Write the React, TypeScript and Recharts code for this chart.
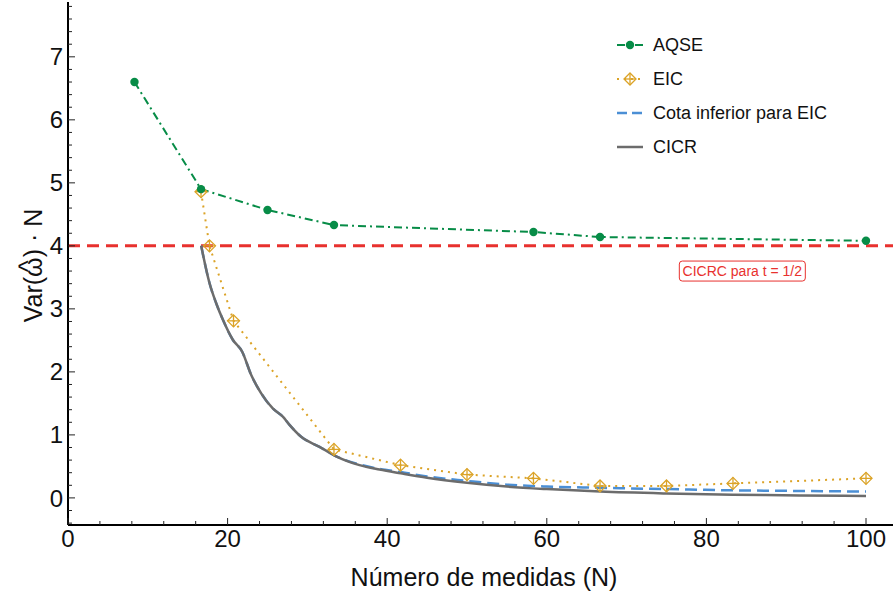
import React from "react";
import {
  LineChart,
  Line,
  XAxis,
  YAxis,
  ReferenceLine,
  ReferenceDot,
} from "recharts";

const FONT = "'Liberation Sans', Arial, sans-serif";

// AQSE
const aqseN = [8.33, 16.67, 25, 33.33, 58.33, 66.67, 100];
const aqseVar = [6.6, 4.9, 4.57, 4.33, 4.22, 4.14, 4.08];

// EIC
const eicN = [16.67, 17.73, 20.74, 33.33, 41.67, 50, 58.33, 66.67, 75, 83.33, 100];
const eicVar = [4.86, 4.0, 2.81, 0.77, 0.52, 0.37, 0.31, 0.19, 0.19, 0.23, 0.31];

// Cota inferior para EIC
const cotaN = [
  16.69, 17.73, 18.57, 19.4, 20.65, 21.83, 22.96, 24.21, 25.66, 26.92, 27.76, 29.22,
  31.52, 33.6, 36.53, 39.04, 41.7, 45, 50, 55, 60, 66.7, 75, 83.3, 91.7, 100,
];
const cotaVar = [
  4.0, 3.41, 3.09, 2.83, 2.51, 2.32, 1.95, 1.66, 1.42, 1.29, 1.16, 0.97,
  0.81, 0.66, 0.53, 0.46, 0.41, 0.34, 0.27, 0.21, 0.18, 0.16, 0.14, 0.12, 0.11, 0.1,
];

// CICR
const cicrN = cotaN;
const cicrVar = [
  4.0, 3.41, 3.09, 2.83, 2.51, 2.32, 1.95, 1.66, 1.42, 1.29, 1.16, 0.97,
  0.81, 0.66, 0.52, 0.45, 0.39, 0.32, 0.24, 0.18, 0.14, 0.1, 0.07, 0.05, 0.04, 0.03,
];

const cicrcLevel = 4;

const xTicks = [0, 4, 8, 12, 16, 20, 24, 28, 32, 36, 40, 44, 48, 52, 56, 60, 64, 68, 72, 76, 80, 84, 88, 92, 96, 100, 104];
const xLabels = [0, 20, 40, 60, 80, 100];
const yLabels = [0, 1, 2, 3, 4, 5, 6, 7];
const yTicks: number[] = [];
for (let k = -2; k <= 39; k++) yTicks.push(Math.round(k * 2) / 10);

const zip = (xs: number[], ys: number[]) => xs.map((x, i) => ({ x, y: ys[i] }));

const GREEN = "#078c47";
const GOLD = "#dba327";
const BLUE = "#4b8fd5";
const GRAY = "#6c6c6c";
const RED = "#e8312e";

const AQSE_DASH = "8 4 2 4";
const EIC_DASH = "2 5";

const EicMarker = ({ cx, cy }: any) => {
  if (cx == null || cy == null) return null;
  const r = 6;
  return (
    <g stroke={GOLD} strokeWidth={1.3} fill="none">
      <path d={`M${cx},${cy - r}L${cx + r},${cy}L${cx},${cy + r}L${cx - r},${cy}Z`} />
      <line x1={cx - r} y1={cy} x2={cx + r} y2={cy} />
      <line x1={cx} y1={cy - r} x2={cx} y2={cy + r} />
    </g>
  );
};

const AqseMarker = ({ cx, cy }: any) => {
  if (cx == null || cy == null) return null;
  return <circle cx={cx} cy={cy} r={4.2} fill={GREEN} stroke="none" />;
};

const BottomTick = ({ x, y, payload }: any) => {
  const v = payload.value;
  const major = xLabels.includes(v);
  return (
    <g>
      <line x1={x} y1={y} x2={x} y2={y - (major ? 7 : 4)} stroke="#222" strokeWidth={1} />
      {major && (
        <text x={x} y={y + 22} textAnchor="middle" fontSize={24} fontFamily={FONT} fill="#111">
          {v}
        </text>
      )}
    </g>
  );
};

const TopTick = ({ x, y, payload }: any) => {
  const major = xLabels.includes(payload.value);
  return <line x1={x} y1={y} x2={x} y2={y + (major ? 7 : 4)} stroke="#444" strokeWidth={1} />;
};

const LeftTick = ({ x, y, payload }: any) => {
  const v = payload.value;
  const major = yLabels.some((l) => Math.abs(l - v) < 1e-6);
  return (
    <g>
      <line x1={x} y1={y} x2={x + (major ? 7 : 4)} y2={y} stroke="#222" strokeWidth={1} />
      {major && (
        <text x={x - 5} y={y + 8.6} textAnchor="end" fontSize={24} fontFamily={FONT} fill="#111">
          {Math.round(v)}
        </text>
      )}
    </g>
  );
};

const legendItems = [
  { name: "AQSE", color: GREEN, dash: AQSE_DASH, marker: "circle" },
  { name: "EIC", color: GOLD, dash: EIC_DASH, marker: "eic" },
  { name: "Cota inferior para EIC", color: BLUE, dash: "10 5", marker: "" },
  { name: "CICR", color: GRAY, dash: "", marker: "" },
];

const LegendBox = () => (
  <div style={{ position: "absolute", left: 612, top: 28, fontFamily: FONT, fontSize: 18, color: "#111" }}>
    {legendItems.map((it) => (
      <div key={it.name} style={{ display: "flex", alignItems: "center", height: 34 }}>
        <svg width={36} height={34}>
          <line
            x1={5}
            y1={17}
            x2={31}
            y2={17}
            stroke={it.color}
            strokeWidth={it.marker ? 2 : 2.5}
            strokeDasharray={it.dash || undefined}
          />
          {it.marker === "circle" && <AqseMarker cx={18} cy={17} />}
          {it.marker === "eic" && <EicMarker cx={18} cy={17} />}
        </svg>
        <span style={{ marginLeft: 5, whiteSpace: "nowrap" }}>{it.name}</span>
      </div>
    ))}
  </div>
);

const AnnotationBox = ({ cx, cy }: any) => {
  if (cx == null || cy == null) return null;
  const w = 126;
  const h = 20;
  return (
    <g>
      <rect x={cx - w / 2} y={cy - h / 2} width={w} height={h} rx={3} fill="#fff" stroke={RED} strokeWidth={1} />
      <text x={cx} y={cy + 5} textAnchor="middle" fontSize={14} fontFamily={FONT} fill={RED}>
        CICRC para t = 1/2
      </text>
    </g>
  );
};

const YLabel = ({ viewBox }: any) => {
  const cy = viewBox.y + viewBox.height / 2 + 2;
  const bx = 42;
  return (
    <text
      x={bx}
      y={cy}
      transform={`rotate(-90 ${bx} ${cy})`}
      textAnchor="middle"
      fontSize={25}
      fontFamily={FONT}
      fill="#111"
    >
      <tspan>Var(ω</tspan>
      <tspan dx={-14.6} dy={-5}>^</tspan>
      <tspan dx={2.9} dy={5}>{") \u00B7 N"}</tspan>
    </text>
  );
};

const XLabel = ({ viewBox }: any) => {
  const cx = viewBox.x + viewBox.width / 2;
  return (
    <text x={cx} y={586} textAnchor="middle" fontSize={25} fontFamily={FONT} fill="#111">
      Número de medidas (N)
    </text>
  );
};

export default function App() {
  return (
    <div style={{ position: "absolute", left: 0, top: 0, width: 893, height: 596, overflow: "hidden", background: "#fff" }}>
      <LineChart width={900} height={596} margin={{ top: 2, right: 0, bottom: 0, left: 0 }}>
        <XAxis
          xAxisId="top"
          orientation="top"
          type="number"
          dataKey="x"
          domain={[0, 104.26]}
          ticks={xTicks}
          interval={0}
          height={0}
          tickSize={0}
          tickMargin={0}
          tick={<TopTick />}
          axisLine={{ stroke: "#444", strokeWidth: 1 }}
          tickLine={false}
          allowDataOverflow
        />
        <XAxis
          type="number"
          dataKey="x"
          domain={[0, 104.26]}
          ticks={xTicks}
          interval={0}
          height={71}
          tickSize={0}
          tickMargin={0}
          tick={<BottomTick />}
          axisLine={{ stroke: "#000", strokeWidth: 2 }}
          tickLine={false}
          allowDataOverflow
          label={<XLabel />}
        />
        <YAxis
          type="number"
          domain={[-0.43, 7.87]}
          ticks={yTicks}
          interval={0}
          width={68}
          tickSize={0}
          tickMargin={0}
          tick={<LeftTick />}
          axisLine={{ stroke: "#000", strokeWidth: 2 }}
          tickLine={false}
          allowDataOverflow
          label={<YLabel />}
        />
        <ReferenceLine y={cicrcLevel} stroke={RED} strokeWidth={3} strokeDasharray="12 7" />
        <Line
          data={zip(cotaN, cotaVar)}
          dataKey="y"
          name="Cota inferior para EIC"
          type="monotone"
          stroke={BLUE}
          strokeWidth={2.5}
          strokeDasharray="12 6"
          dot={false}
          isAnimationActive={false}
        />
        <Line
          data={zip(cicrN, cicrVar)}
          dataKey="y"
          name="CICR"
          type="monotone"
          stroke={GRAY}
          strokeWidth={2.5}
          dot={false}
          isAnimationActive={false}
        />
        <Line
          data={zip(eicN, eicVar)}
          dataKey="y"
          name="EIC"
          type="linear"
          stroke={GOLD}
          strokeWidth={2}
          strokeDasharray={EIC_DASH}
          dot={<EicMarker />}
          isAnimationActive={false}
        />
        <Line
          data={zip(aqseN, aqseVar)}
          dataKey="y"
          name="AQSE"
          type="linear"
          stroke={GREEN}
          strokeWidth={2}
          strokeDasharray={AQSE_DASH}
          dot={<AqseMarker />}
          isAnimationActive={false}
        />
        <ReferenceDot x={84.5} y={3.6} r={0} shape={<AnnotationBox />} />
      </LineChart>
      <LegendBox />
    </div>
  );
}
